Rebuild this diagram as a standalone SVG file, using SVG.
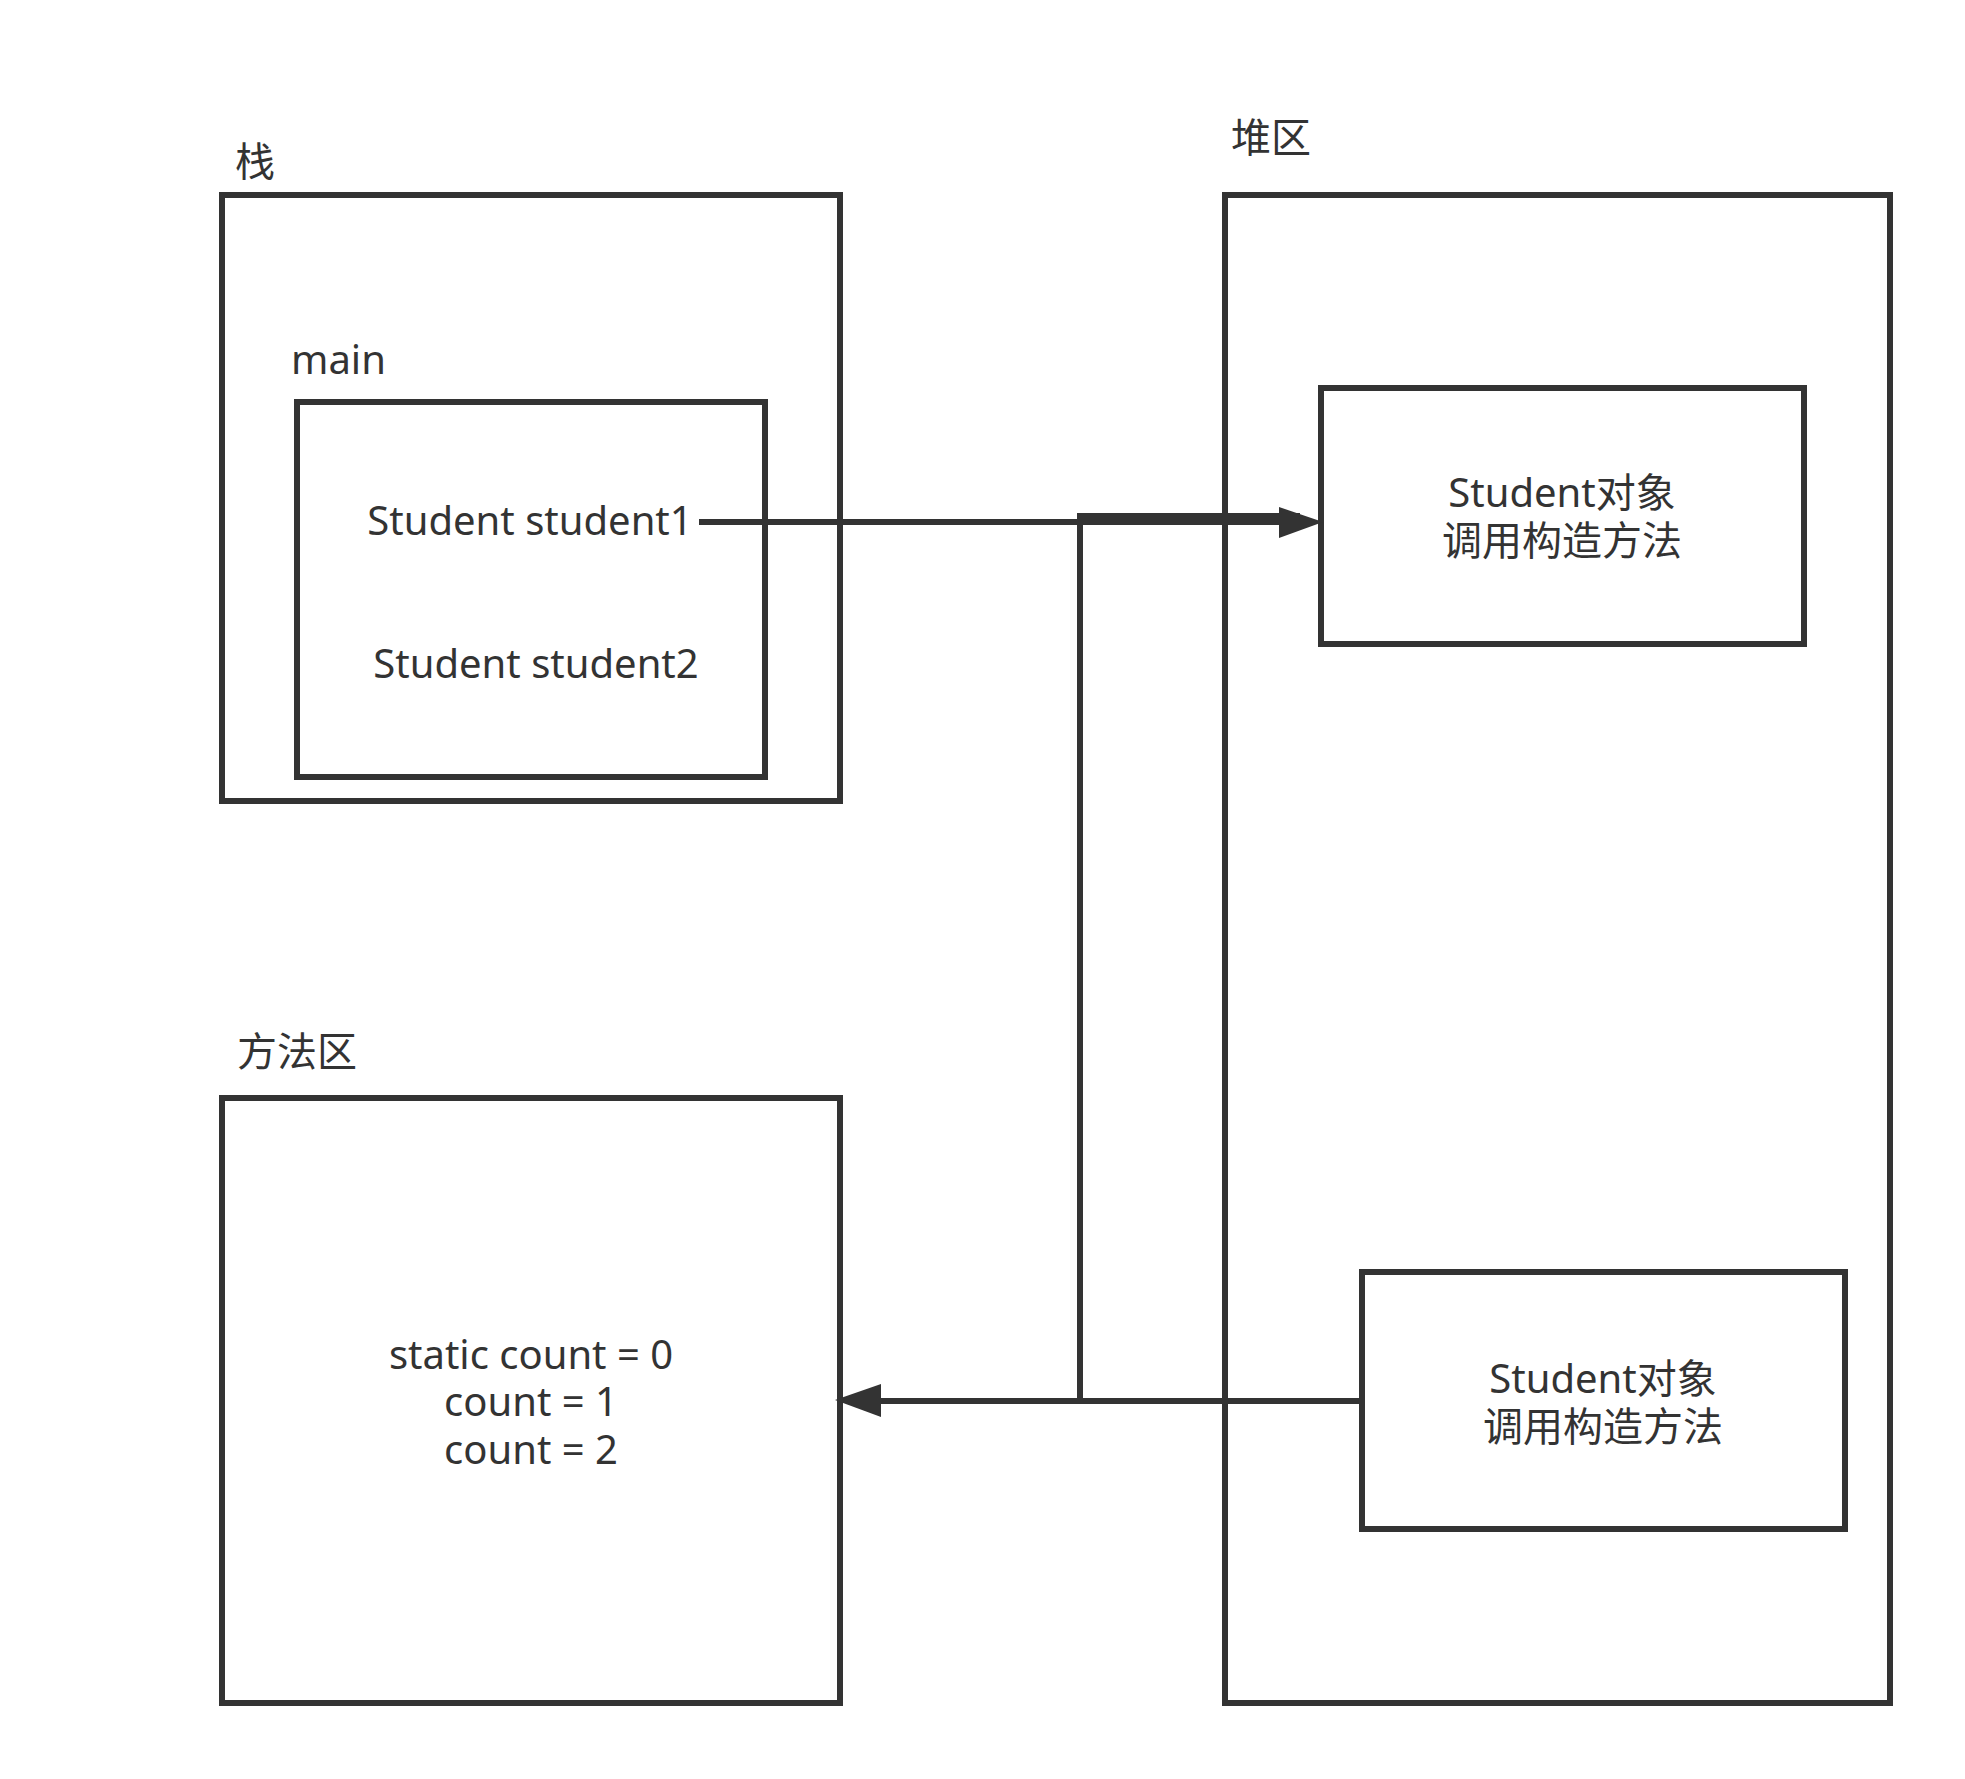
<svg xmlns="http://www.w3.org/2000/svg" width="1965" height="1779" viewBox="0 0 1965 1779">
<style>
.box{fill:#ffffff;stroke:#333333;stroke-width:6}
.t{font-family:"Noto Sans","Noto Sans CJK SC",sans-serif;font-size:40px;fill:#333333}
.c{text-anchor:middle}
.edge{fill:none;stroke:#333333;stroke-width:6}
.head{fill:#333333;stroke:none}
</style>
<rect width="1965" height="1779" fill="#ffffff"/>
<g id="stack">
<text class="t" x="235" y="176">栈</text>
<rect class="box" x="222" y="195" width="618" height="606"/>
</g>
<g id="heap">
<text class="t" x="1231" y="152">堆区</text>
<rect class="box" x="1225" y="195" width="665" height="1508"/>
</g>
<g id="method">
<text class="t" x="237" y="1066">方法区</text>
<rect class="box" x="222" y="1098" width="618" height="605"/>
<text class="t c" x="531" y="1369">static count = 0</text>
<text class="t c" x="531" y="1416">count = 1</text>
<text class="t c" x="531" y="1464">count = 2</text>
</g>
<g id="main">
<text class="t" x="291" y="374">main</text>
<rect class="box" x="297" y="402" width="468" height="375"/>
<text class="t c" x="530" y="535">Student student1</text>
<text class="t c" x="536" y="678">Student student2</text>
</g>
<g id="obj1">
<rect class="box" x="1321" y="388" width="483" height="256"/>
<text class="t c" x="1562" y="507">Student对象</text>
<text class="t c" x="1562" y="555">调用构造方法</text>
</g>
<g id="obj2">
<rect class="box" x="1362" y="1272" width="483" height="257"/>
<text class="t c" x="1603" y="1393">Student对象</text>
<text class="t c" x="1603" y="1441">调用构造方法</text>
</g>
<g id="connectors">
<path class="edge" d="M699 522 H1285"/>
<path class="edge" d="M1300 516 H1080 V1401"/>
<path class="edge" d="M1362 1401 H875"/>
<polygon class="head" points="1279,507 1323,522 1279,538"/>
<polygon class="head" points="881,1384 835,1400 881,1417"/>
</g>
</svg>
